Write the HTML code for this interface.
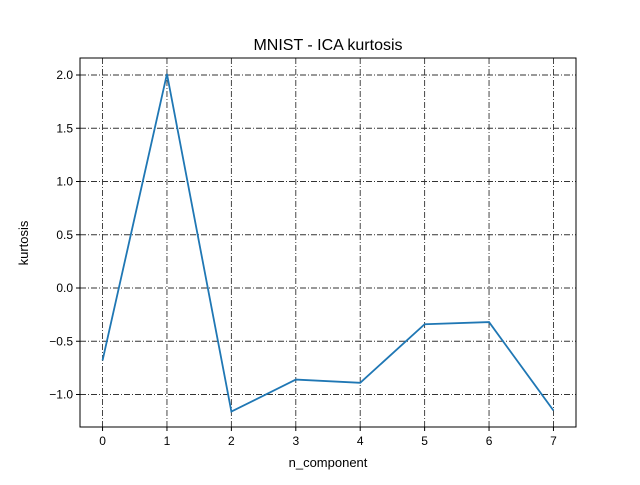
<!DOCTYPE html>
<html><head><meta charset="utf-8"><style>
body{margin:0;background:#fff;}
svg text{font-family:"Liberation Sans","DejaVu Sans",sans-serif;}
</style></head><body>
<svg id="chart" width="640" height="480" xmlns="http://www.w3.org/2000/svg">
<rect width="640" height="480" fill="#fff"/>
<text x="328" y="50" font-size="16" text-anchor="middle">MNIST - ICA kurtosis</text>
<text x="328" y="467" font-size="13" text-anchor="middle">n_component</text>
<text transform="translate(28,243) rotate(-90)" font-size="13" text-anchor="middle">kurtosis</text>
<g id="grid"></g>
<g id="ticks"></g>
<polyline id="line" fill="none" stroke="#1f77b4" stroke-width="1.8"/>
<rect x="80" y="58" width="496" height="369" fill="none" stroke="#000" stroke-width="1"/>
</svg>
<script>
const categories=[0,1,2,3,4,5,6,7];
const kurtosis=[-0.68,2.01,-1.16,-0.86,-0.89,-0.34,-0.32,-1.15];
const yTicks=[-1.0,-0.5,0.0,0.5,1.0,1.5,2.0];
const yTickLabels=["\u22121.0","\u22120.5","0.0","0.5","1.0","1.5","2.0"];
const L=80,R=576,T=58,B=427;
const xs=v=>L+(v+0.35)*(R-L)/7.7;
const ys=v=>288-v*106.5;
const NS="http://www.w3.org/2000/svg";
const grid=document.getElementById('grid'),ticks=document.getElementById('ticks');
function mk(tag,attrs,parent){const e=document.createElementNS(NS,tag);for(const k in attrs)e.setAttribute(k,attrs[k]);parent.appendChild(e);return e;}
categories.forEach(c=>{
  const x=xs(c);
  const g=mk('line',{x1:x,x2:x,y1:T,y2:B,stroke:'#333','stroke-width':0.9,'stroke-dasharray':'6,2,1,2'},grid);
  
  
  const t=mk('line',{x1:x,x2:x,y1:B,y2:B+4,stroke:'#000'},ticks);
  
  
  const l=mk('text',{x:x,y:B+18,'font-size':12,'text-anchor':'middle'},ticks);
  l.textContent=String(c);
  
  
});
yTicks.forEach((v,i)=>{
  const y=ys(v);
  const g=mk('line',{x1:L,x2:R,y1:y,y2:y,stroke:'#333','stroke-width':0.9,'stroke-dasharray':'6,2,1,2'},grid);
  
  
  const t=mk('line',{x1:L-4,x2:L,y1:y,y2:y,stroke:'#000'},ticks);
  
  
  const l=mk('text',{x:L-7,y:y+4,'font-size':12,'text-anchor':'end'},ticks);
  l.textContent=yTickLabels[i];
  
  
});
document.getElementById('line').setAttribute('points',categories.map((c,i)=>xs(c)+','+ys(kurtosis[i])).join(' '));
</script>
</body></html>
